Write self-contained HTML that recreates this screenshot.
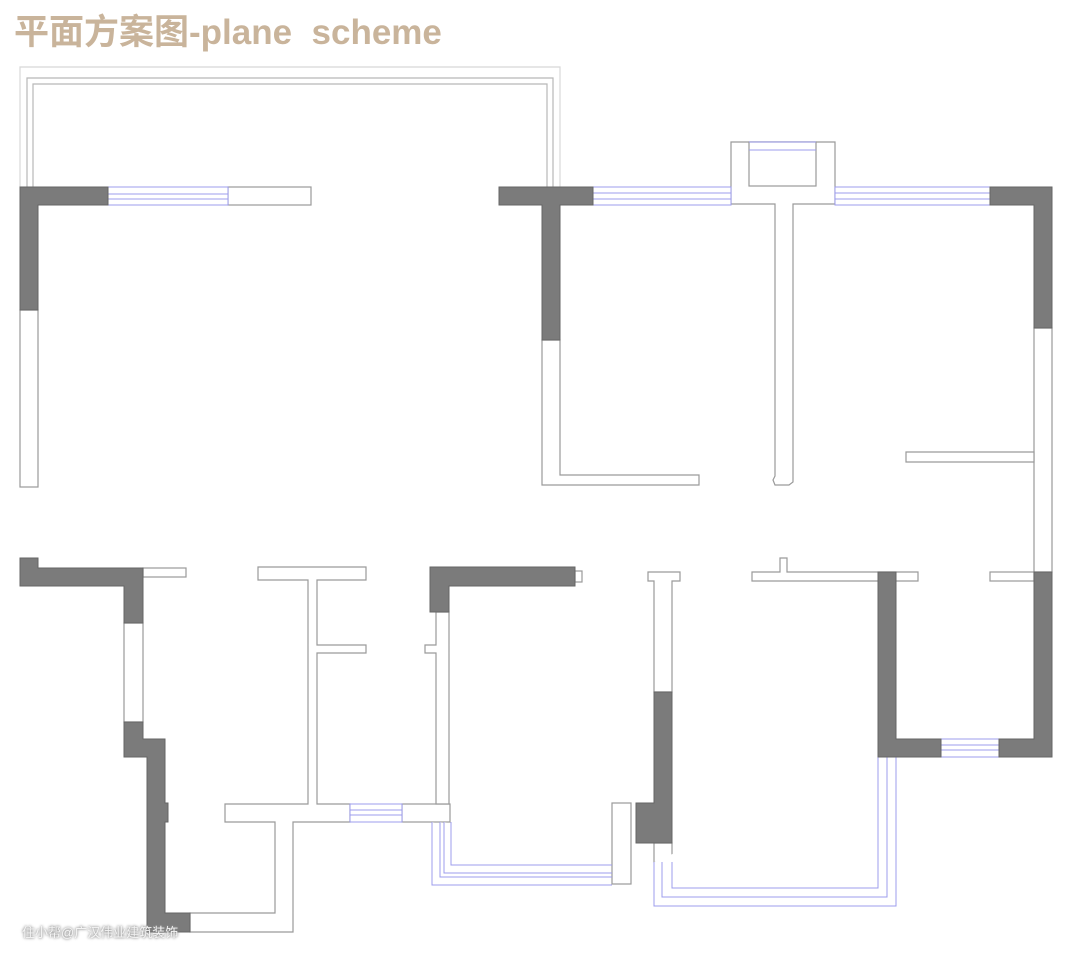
<!DOCTYPE html>
<html><head><meta charset="utf-8"><style>
html,body{margin:0;padding:0;background:#fff;}
body{width:1080px;height:961px;position:relative;overflow:hidden;}
.t{position:absolute;left:14px;top:4px;font-family:"Liberation Sans","Noto Sans CJK SC",sans-serif;font-weight:bold;font-size:35px;color:#c9b49b;letter-spacing:0px;white-space:pre;}
.w{position:absolute;left:22px;top:922px;font-family:"Liberation Sans","Noto Sans CJK SC",sans-serif;font-size:13px;color:#f4f4f4;text-shadow:0 0 3px #888,0 0 2px #999;white-space:pre;}
</style></head><body>
<div class="t">平面方案图-plane  scheme</div>
<svg width="1080" height="961" style="position:absolute;left:0;top:0" xmlns="http://www.w3.org/2000/svg">
<g fill="none" stroke="#d8d8d8" stroke-width="1.2">
<polyline points="20,187 20,67 560,67 560,187"/>
</g>
<g fill="none" stroke="#b8b8b8" stroke-width="1.2">
<polyline points="27,187 27,78 553,78 553,187"/>
<polyline points="33,187 33,84 547,84 547,187"/>
</g>
<g fill="#fff" stroke="#9a9a9a" stroke-width="1.2">
<rect x="20" y="310" width="18" height="177"/>
<rect x="228" y="187" width="83" height="18"/>
<polygon points="542,340 560,340 560,475 699,475 699,485 542,485"/>
<polygon points="731,142 835,142 835,204 793,204 793,482 789,485 775,485 773,480 775,476 775,204 731,204"/>
<rect x="749" y="142" width="67" height="44"/>
<rect x="1034" y="328" width="18" height="244"/>
<polygon points="906,452 1034,452 1034,462 906,462"/>
<rect x="143" y="568" width="43" height="9"/>
<rect x="124" y="623" width="19" height="99"/>
<polygon points="190,913 275,913 275,822 225,822 225,804 308,804 308,580 258,580 258,567 366,567 366,580 317,580 317,645 366,645 366,653 317,653 317,804 350,804 350,822 293,822 293,932 190,932"/>
<rect x="402" y="804" width="48" height="18"/>
<polygon points="436,612 449,612 449,804 436,804 436,653 425,653 425,645 436,645"/>
<rect x="575" y="571" width="7" height="11"/>
<rect x="612" y="803" width="19" height="81"/>
<polygon points="648,572 680,572 680,581 672,581 672,692 654,692 654,581 648,581"/>
<rect x="654" y="843" width="18" height="19"/>
<polygon points="752,572 780,572 780,558 787,558 787,572 918,572 918,581 752,581"/>
<rect x="990" y="572" width="44" height="9"/>
</g>
<g fill="#fff" stroke="#9c9cec" stroke-width="1">
<rect x="108" y="187" width="120" height="18"/>
<line x1="108" y1="194" x2="228" y2="194"/><line x1="108" y1="199" x2="228" y2="199"/>
<rect x="593" y="187" width="138" height="18"/>
<line x1="593" y1="193" x2="731" y2="193"/><line x1="593" y1="199" x2="731" y2="199"/>
<rect x="835" y="187" width="155" height="18"/>
<line x1="835" y1="193" x2="990" y2="193"/><line x1="835" y1="199" x2="990" y2="199"/>
<line x1="749" y1="150" x2="816" y2="150"/><line x1="749" y1="142" x2="816" y2="142"/>
<rect x="350" y="804" width="52" height="18"/>
<line x1="350" y1="810" x2="402" y2="810"/><line x1="350" y1="815" x2="402" y2="815"/>
<rect x="941" y="739" width="58" height="18"/>
<line x1="941" y1="745" x2="999" y2="745"/><line x1="941" y1="750" x2="999" y2="750"/>
<polyline points="432,822 432,885 612,885"/>
<polyline points="440,822 440,877 612,877"/>
<polyline points="444,822 444,873 612,873"/>
<polyline points="451,822 451,865 612,865"/>
<polyline points="654,862 654,906 896,906 896,757"/>
<polyline points="662,862 662,897 887,897 887,757"/>
<polyline points="672,862 672,888 878,888 878,757"/>
</g>
<g fill="#7b7b7b" stroke="#666" stroke-width="1">
<polygon points="20,187 108,187 108,205 38,205 38,310 20,310"/>
<polygon points="499,187 593,187 593,205 560,205 560,340 542,340 542,205 499,205"/>
<polygon points="990,187 1052,187 1052,328 1034,328 1034,205 990,205"/>
<polygon points="20,558 38,558 38,568 143,568 143,623 124,623 124,586 20,586"/>
<polygon points="124,722 143,722 143,739 165,739 165,803 168,803 168,822 165,822 165,913 190,913 190,932 147,932 147,757 124,757"/>
<polygon points="430,567 575,567 575,586 449,586 449,612 430,612"/>
<polygon points="654,692 672,692 672,843 636,843 636,803 654,803"/>
<polygon points="878,572 896,572 896,739 941,739 941,757 878,757"/>
<polygon points="1034,572 1052,572 1052,757 999,757 999,739 1034,739"/>
</g>
</svg>
<div class="w">住小帮@广汉伟业建筑装饰</div>
</body></html>
